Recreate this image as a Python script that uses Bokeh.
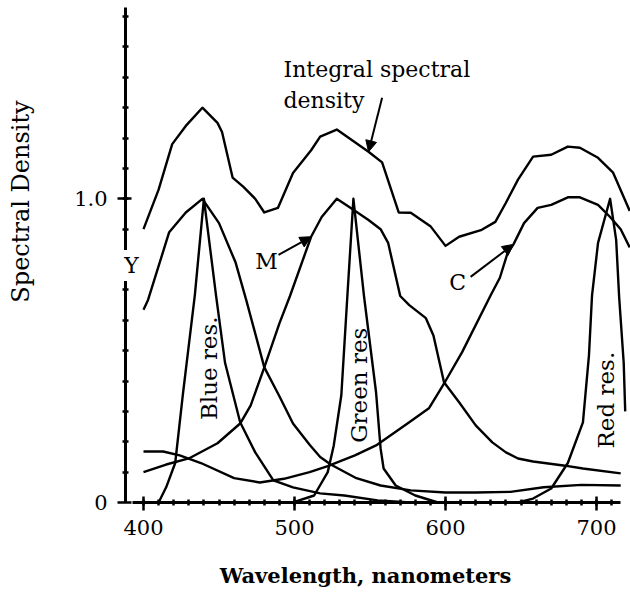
from bokeh.plotting import figure
from bokeh.models import Range1d, FixedTicker, Label, Arrow, NormalHead
from bokeh.embed import file_html
from bokeh.resources import INLINE

# Integral spectral density of the three-dye image
integral_nm = [400, 410, 419, 428, 439, 449, 452, 459, 466, 474, 480, 489, 499, 511, 517,
               528, 549, 558, 569, 577, 590, 600, 609, 624, 633, 640, 648, 658, 670, 681,
               689, 701, 711, 722]
integral_d = [0.90, 1.03, 1.18, 1.24, 1.30, 1.25, 1.22, 1.07, 1.04, 1.00, 0.955, 0.97, 1.085,
              1.16, 1.205, 1.228, 1.155, 1.12, 0.955, 0.954, 0.91, 0.845, 0.875, 0.898,
              0.924, 0.987, 1.063, 1.139, 1.145, 1.172, 1.168, 1.135, 1.086, 0.96]

# Yellow dye
y_nm = [400, 403, 417, 428, 439, 450, 461, 468, 480, 490, 499, 510, 517, 524, 541, 557,
        577, 600, 620, 643, 665, 690, 716]
y_d = [0.635, 0.667, 0.89, 0.955, 1.0, 0.92, 0.79, 0.667, 0.445, 0.35, 0.26, 0.19, 0.15,
       0.125, 0.08, 0.056, 0.04, 0.033, 0.033, 0.035, 0.05, 0.058, 0.056]

# Magenta dye
m_nm = [400, 415, 430, 449, 464, 471, 480, 490, 497, 511, 518, 528, 539, 549, 557, 562,
        570, 576, 587, 592, 599, 609, 620, 631, 640, 648, 658, 678, 691, 716]
m_d = [0.10, 0.125, 0.145, 0.195, 0.26, 0.32, 0.445, 0.59, 0.68, 0.875, 0.94, 1.0, 0.964,
       0.93, 0.90, 0.855, 0.68, 0.65, 0.607, 0.55, 0.396, 0.33, 0.254, 0.198, 0.165, 0.145,
       0.135, 0.122, 0.112, 0.096]

# Cyan dye
c_nm = [400, 413, 424, 438, 460, 477, 493, 510, 522, 540, 554, 576, 589, 600, 611, 630,
        636, 641, 645, 652, 661, 670, 681, 689, 701, 709, 716, 722]
c_d = [0.168, 0.168, 0.155, 0.13, 0.08, 0.066, 0.078, 0.10, 0.12, 0.155, 0.188, 0.264,
       0.31, 0.40, 0.495, 0.683, 0.74, 0.82, 0.85, 0.92, 0.97, 0.98, 1.005, 1.005, 0.98,
       0.94, 0.90, 0.84]

# Spectral response of the blue-, green- and red-sensitive layers
blue_nm = [410, 415, 421, 426, 434, 440, 448, 454, 464, 474, 486, 499, 517, 533, 555, 577]
blue_d = [0.0, 0.05, 0.13, 0.353, 0.683, 1.0, 0.683, 0.46, 0.264, 0.165, 0.073, 0.05, 0.03,
          0.023, 0.007, 0.0]

green_nm = [499, 513, 522, 526, 531, 535, 539, 546, 554, 557, 559, 567, 580, 595]
green_d = [0.0, 0.023, 0.10, 0.188, 0.353, 0.68, 1.0, 0.68, 0.363, 0.178, 0.112, 0.056,
           0.023, 0.0]

red_nm = [648, 658, 670, 681, 691, 695, 697, 701, 709, 713, 715, 718, 719]
red_d = [0.0, 0.013, 0.046, 0.13, 0.264, 0.485, 0.68, 0.855, 1.0, 0.865, 0.675, 0.46, 0.30]

x_ticks = [400, 500, 600, 700]
y_ticks = [0, 1.0]
y_tick_labels = {0: "0", 1: "1.0"}
x_title = "Wavelength, nanometers"
y_title = "Spectral Density"

FONT = "DejaVu Serif"
X_AXIS_START = 388.1

# the plotting area fills the whole canvas; the axes sit at fixed data positions
p = figure(width=630, height=594, output_backend="svg", toolbar_location=None,
           x_range=Range1d(305.3, 722.5), y_range=Range1d(-0.303, 1.653),
           min_border=0)
p.xgrid.visible = False
p.ygrid.visible = False
p.outline_line_color = None
p.background_fill_color = "white"
p.border_fill_color = "white"

curves = [(integral_nm, integral_d), (y_nm, y_d), (m_nm, m_d), (c_nm, c_d),
          (blue_nm, blue_d), (green_nm, green_d), (red_nm, red_d)]
for xs, ys in curves:
    p.line(xs, ys, line_color="black", line_width=2.4, line_join="round")

# axes
xa = p.xaxis[0]
xa.fixed_location = 0
xa.ticker = FixedTicker(ticks=x_ticks, minor_ticks=list(range(400, 720, 10)))
xa.bounds = (393, 716)
ya = p.yaxis[0]
ya.fixed_location = X_AXIS_START
ya.ticker = FixedTicker(ticks=y_ticks, minor_ticks=[round(0.1 * i, 1) for i in range(1, 17)])
ya.bounds = (0, 1.63)
ya.major_label_overrides = y_tick_labels
for ax in (xa, ya):
    ax.axis_line_width = 3
    ax.axis_line_color = "black"
    ax.major_tick_line_width = 2.5
    ax.minor_tick_line_width = 2.5
    ax.major_tick_line_color = "black"
    ax.minor_tick_line_color = "black"
    ax.major_tick_in = 6
    ax.major_tick_out = 8
    ax.minor_tick_in = 3
    ax.minor_tick_out = 3
    ax.major_label_text_font = FONT
    ax.major_label_text_font_size = "21px"
    ax.major_label_text_color = "black"
xa.major_label_standoff = 10
ya.major_label_standoff = 10


def text(x, y, s, angle=0.0, align="center", size="22px", style="normal", bg=None):
    lab = Label(x=x, y=y, text=s, angle=angle, text_font=FONT, text_font_size=size,
                text_font_style=style, text_color="black", text_align=align,
                text_baseline="middle")
    if bg:
        lab.background_fill_color = bg
        lab.padding = 3
    p.add_layout(lab)


# axis titles
text(547.0, -0.240, x_title, size="21px", style="bold")
text(319.2, 0.991, y_title, angle=1.5708, size="24px")

# curve annotations
text(492.7, 1.426, "Integral spectral", align="left")
text(492.7, 1.325, "density", align="left")
text(392.0, 0.78, "Y", bg="white")
text(481.5, 0.795, "M")
text(608.0, 0.723, "C")
text(443.7, 0.442, "Blue res.", angle=1.5708, size="23px")
text(542.4, 0.386, "Green res", angle=1.5708, size="23px")
text(706.6, 0.337, "Red res.", angle=1.5708, size="23px")


def pointer(x0, y0, xs, ys, at):
    i = xs.index(at)
    p.add_layout(Arrow(x_start=x0, y_start=y0, x_end=xs[i], y_end=ys[i],
                       line_color="black", line_width=2,
                       end=NormalHead(size=11, fill_color="black", line_color="black")))


pointer(558.0, 1.333, integral_nm, integral_d, 549)
pointer(489.4, 0.815, m_nm, m_d, 511)
pointer(616.6, 0.743, c_nm, c_d, 645)

open("out.html", "w").write(file_html(p, INLINE))
